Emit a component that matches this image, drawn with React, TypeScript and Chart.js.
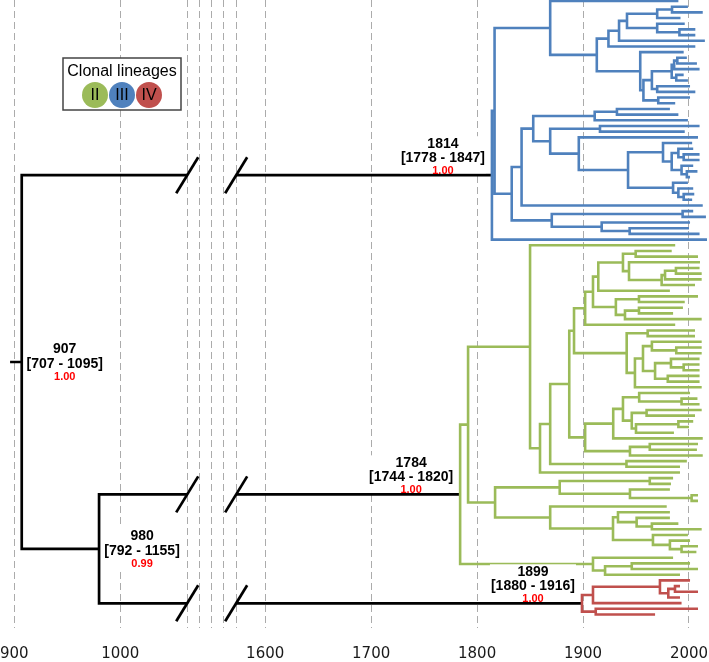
import { useEffect, useRef } from "react";
import { Chart, registerables } from "chart.js";
Chart.register(...registerables);

type Tree = number | Tree[];

// ---- axis ----
const gridYears = [900, 1000, 1100, 1200, 1300, 1400, 1500, 1600, 1700, 1800, 1900, 2000];
const tickLabelYears = [900, 1000, 1600, 1700, 1800, 1900, 2000];
const breakCutYears = [1100, 1500];

// ---- backbone (years) ----
const rootStubYear = 896;
const rootYear = 907;
const midNodeYear = 980;

// ---- clades: [nodeDate, child, child]; a bare number is a tip date ----
const blueTop: Tree = [1869, 1990,
  [1913,
    [1924, [1934, [1941.5, [1970, [1984, 1999, 2013], 1992], [1970, 1996, [1991, 2006, 2006]]], 2015], 2006],
    [1954, 1995, [1957,
      [1965, [1983.7, [1986, [1989, 1998, 2007.5], 2010], [1988, 1995, 1999]], [1970, 2001, 2006]],
      [1971, 2001, 1987]]]]];
const blueBottom: Tree = [1832.7,
  [1842,
    [1853,
      [1911, [1932, 1982, 1990], 1999],
      [1869, [1916, 2010, 1996],
        [1896, 2008.5,
          [1942.5,
            [1975.5, 2003, [1983.7, [1990, 2004, [1995, 2010, 2010]], [1993, 2004, [1998, 2008, 2001]]]],
            [1985, 1999, [1990, 2004, [1995, 2005, 2003]]]]]]],
    2013],
  [1870.5, [1994, 2004, 2016], [1917.6, 2001, [1944, 2000, 2010]]]];
const blueTree: Tree = [1814, [1816.5, blueTop, blueBottom], 2017];

const greenUpper: Tree = [1850, 1987,
  [1859.4,
    [1869,
      [1887,
        [1891.5,
          [1902,
            [1909.4,
              [1914.4,
                [1937.7, [1949.7, 1983.7, 2008.5], [1943.4, 2010.4, [1974.2, [1977.4, [1987.7, 2010, 2012], 2012], 2005.7]]],
                1982],
              [1931, [1952.8, 2008.5, 1996], [1939.6, [1952.8, 1994.3, 1985], 2012]]],
            1987],
          [1941.2, [1961, 2005.7, 2005.7],
            [1949, [1956.6, [1965, 2012, [1988, 2012, 2012]], [1968, [1983, 2010, [1995, 2010, 2010]], [1980, 2010, 2010]]], 2012]]],
        [1902,
          [1928.5, [1937.7, [1953, 2001, [1993, 2008, 2010]], [1946, [1960, 2012, 2005.7], [1950, [1990, 2004, 2000], 1985.8]]], 2013],
          [1944.3, [1963, 2008.5, 2007.5], 2013]]],
      [1941, 1998, 1991.5]],
    1991.5]];
const greenMiddle: Tree = [1817,
  [1878, [1963, 1985, 1983], [1944.3, 1982, [2002.5, 2008.5, 2008.5]]],
  [1869, 1979, [1928.3, [1933, 1982, [1950.6, 1982, [1965, 1990, 2012]]], [1966, 1999, [1982, 2001, [1993, 2008.5, 2007]]]]]];
const greenLower: Tree = [1909.4, 1985, [1920.8, [1946, 2001, 2008.5], 1991.5]];
const greenTree: Tree = [1784, [1791.5, greenUpper, greenMiddle], greenLower];

const redTree: Tree = [1899, [1909.4, [1972.6, 2001, [1980.5, [1986.8, 1991.5, 2008.5], 1991.5]], 1993], [1912, 2008.5, 1968]];

// ---- node annotations ----
const nodeDates = [907, 980, 1814, 1784, 1899];
const nodeRanges = ["[707 - 1095]", "[792 - 1155]", "[1778 - 1847]", "[1744 - 1820]", "[1880 - 1916]"];
const nodePosteriors = ["1.00", "0.99", "1.00", "1.00", "1.00"];

// ---- legend ----
const legendTitle = "Clonal lineages";
const legendNames = ["II", "III", "IV"];
const BLUE = "#4f81bd";
const GREEN = "#9bbb59";
const RED = "#c0504d";
const legendColors = [GREEN, BLUE, RED];

// broken time axis: 1000-1600 compressed
const breakIn = [1000, 1100, 1500, 1600];
const breakOut = [1000, 1063.2, 1109.4, 1136.8];
function toX(year: number): number {
  if (year <= 1000) return year;
  if (year >= 1600) return year - 463.2;
  for (let i = 0; i < 3; i++) {
    if (year <= breakIn[i + 1]) {
      const f = (year - breakIn[i]) / (breakIn[i + 1] - breakIn[i]);
      return breakOut[i] + f * (breakOut[i + 1] - breakOut[i]);
    }
  }
  return year;
}

type LNode = { t: number; y: number; kids: LNode[] };
function layout(tree: Tree, counter: { n: number }): LNode {
  if (typeof tree === "number") return { t: tree, y: counter.n++, kids: [] };
  const [t, ...rest] = tree;
  const kids = rest.map((k) => layout(k, counter));
  return { t: t as number, y: (kids[0].y + kids[kids.length - 1].y) / 2, kids };
}
type P = { x: number; y: number };
function segs(node: LNode, out: P[]) {
  if (!node.kids.length) return;
  const f = node.kids[0];
  const l = node.kids[node.kids.length - 1];
  out.push({ x: toX(f.t), y: f.y }, { x: toX(node.t), y: f.y }, { x: toX(node.t), y: l.y }, { x: toX(l.t), y: l.y }, { x: NaN, y: NaN });
  for (let i = 1; i < node.kids.length - 1; i++) {
    const k = node.kids[i];
    out.push({ x: toX(node.t), y: k.y }, { x: toX(k.t), y: k.y }, { x: NaN, y: NaN });
  }
  node.kids.forEach((k) => segs(k, out));
}

const counter = { n: 0 };
const blue = layout(blueTree, counter);
const green = layout(greenTree, counter);
const red = layout(redTree, counter);
const midY = (green.y + red.y) / 2;
const rootY = (blue.y + midY) / 2;

const bluePts: P[] = [];
segs(blue, bluePts);
const greenPts: P[] = [];
segs(green, greenPts);
const redPts: P[] = [];
segs(red, redPts);
const cut0 = toX(breakCutYears[0]);
const cut1 = toX(breakCutYears[1]);
const blackPts: P[] = [
  { x: toX(rootStubYear), y: rootY }, { x: toX(rootYear), y: rootY }, { x: NaN, y: NaN },
  { x: cut0, y: blue.y }, { x: toX(rootYear), y: blue.y }, { x: toX(rootYear), y: midY }, { x: toX(midNodeYear), y: midY }, { x: NaN, y: NaN },
  { x: cut0, y: green.y }, { x: toX(midNodeYear), y: green.y }, { x: toX(midNodeYear), y: red.y }, { x: cut0, y: red.y }, { x: NaN, y: NaN },
  { x: cut1, y: blue.y }, { x: toX(blue.t), y: blue.y }, { x: NaN, y: NaN },
  { x: cut1, y: green.y }, { x: toX(green.t), y: green.y }, { x: NaN, y: NaN },
  { x: cut1, y: red.y }, { x: toX(red.t), y: red.y },
];

const labelNodes = [
  { t: rootYear, y: rootY, right: true },
  { t: midNodeYear, y: midY, right: true },
  { t: blue.t, y: blue.y, right: false },
  { t: green.t, y: green.y, right: false },
  { t: red.t, y: red.y, right: false },
];

const overlay = {
  id: "overlay",
  afterDatasetsDraw(chart: any) {
    const ctx: CanvasRenderingContext2D = chart.ctx;
    const xs = chart.scales.x;
    const ys = chart.scales.y;
    ctx.save();
    // slashes on broken branches
    ctx.strokeStyle = "#000";
    ctx.lineWidth = 2.7;
    for (const yy of [blue.y, green.y, red.y]) {
      for (const c of breakCutYears) {
        const px = xs.getPixelForValue(toX(c));
        const py = ys.getPixelForValue(yy);
        ctx.beginPath();
        ctx.moveTo(px - 11, py + 18);
        ctx.lineTo(px + 11, py - 18);
        ctx.stroke();
      }
    }
    // node labels
    ctx.textAlign = "center";
    ctx.textBaseline = "middle";
    labelNodes.forEach((n, i) => {
      const px = xs.getPixelForValue(toX(n.t));
      const py = ys.getPixelForValue(n.y);
      const cx = n.right ? px + 43 : px - 49;
      const y1 = n.right ? py - 13 : py - 31;
      const y2 = n.right ? py + 2 : py - 17;
      const y3 = n.right ? py + 15 : py - 4;
      ctx.font = "bold 14px 'Liberation Sans', Arial, sans-serif";
      const w = ctx.measureText(nodeRanges[i]).width;
      const top = y1 - 8;
      const bottom = n.right ? y3 + 6 : py - 2;
      ctx.fillStyle = "#fff";
      ctx.fillRect(cx - w / 2 - 1, top, w + 2, bottom - top);
      ctx.fillStyle = "#000";
      ctx.fillText(String(nodeDates[i]), cx, y1);
      ctx.fillText(nodeRanges[i], cx, y2);
      ctx.font = "bold 11px 'Liberation Sans', Arial, sans-serif";
      ctx.fillStyle = "#ff0000";
      ctx.fillText(nodePosteriors[i], cx, y3);
    });
    // legend
    const bx = 63, by = 58, bw = 118, bh = 52;
    ctx.fillStyle = "#fff";
    ctx.fillRect(bx, by, bw, bh);
    ctx.strokeStyle = "#444";
    ctx.lineWidth = 1.5;
    ctx.strokeRect(bx, by, bw, bh);
    ctx.fillStyle = "#000";
    ctx.font = "16px 'Liberation Sans', Arial, sans-serif";
    ctx.fillText(legendTitle, bx + bw / 2, by + 14);
    legendNames.forEach((name, i) => {
      const cx = bx + bw / 2 - 27 + i * 27;
      const cy = by + 37;
      ctx.beginPath();
      ctx.arc(cx, cy, 13, 0, Math.PI * 2);
      ctx.fillStyle = legendColors[i];
      ctx.fill();
      ctx.fillStyle = "#000";
      ctx.font = "16px 'Liberation Sans', Arial, sans-serif";
      ctx.fillText(name, cx, cy + 1);
    });
    ctx.restore();
  },
};

export default function App() {
  const ref = useRef<HTMLCanvasElement>(null);
  useEffect(() => {
    document.body.style.margin = "0";
    const lineDs = (data: P[], color: string, width: number) => ({
      data,
      showLine: true,
      borderColor: color,
      borderWidth: width,
      pointRadius: 0,
      spanGaps: false,
      borderJoinStyle: "miter" as const,
      borderCapStyle: "butt" as const,
    });
    const chart = new Chart(ref.current as HTMLCanvasElement, {
      type: "scatter",
      data: {
        datasets: [
          lineDs(bluePts, BLUE, 2.6),
          lineDs(greenPts, GREEN, 2.6),
          lineDs(redPts, RED, 2.6),
          lineDs(blackPts, "#000", 2.7),
        ],
      },
      options: {
        animation: false,
        responsive: true,
        maintainAspectRatio: false,
        layout: { padding: 0 },
        plugins: { legend: { display: false }, tooltip: { enabled: false } },
        scales: {
          x: {
            type: "linear",
            min: 886.8,
            max: 1555.7,
            afterBuildTicks: (s: any) => {
              s.ticks = gridYears.map((y) => ({ value: toX(y) }));
            },
            ticks: {
              autoSkip: false,
              maxRotation: 0,
              padding: 0,
              color: "#1a1a1a",
              font: { family: "DejaVu Sans", size: 15, lineHeight: 1.0 },
              callback: (v: any) => {
                const yr = gridYears.find((y) => Math.abs(toX(y) - v) < 0.01);
                return yr !== undefined && tickLabelYears.includes(yr) ? String(yr) : "";
              },
            },
            grid: { color: "#ababab", lineWidth: 1, drawTicks: true, tickLength: 19, tickColor: "rgba(0,0,0,0)" },
            border: { display: false, dash: [7, 4] },
          },
          y: { type: "linear", display: false, reverse: true, min: -0.176, max: 110.38 },
        },
      },
      plugins: [overlay],
    });
    return () => chart.destroy();
  }, []);
  return (
    <div style={{ position: "absolute", left: 0, top: 0, width: 709, height: 662 }}>
      <canvas ref={ref} />
    </div>
  );
}
